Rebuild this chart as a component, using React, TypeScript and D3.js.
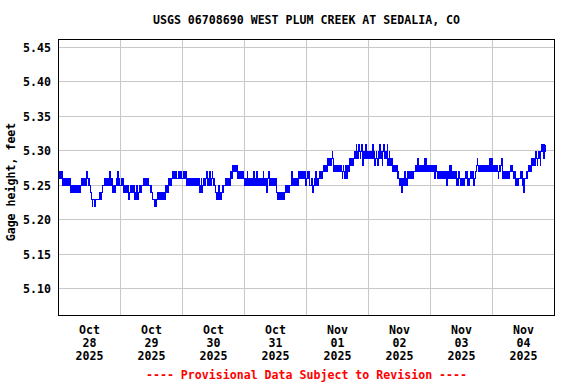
import React from "react";
import * as d3 from "d3";

const title = "USGS 06708690 WEST PLUM CREEK AT SEDALIA, CO";
const yLabel = "Gage height, feet";
const footer = "---- Provisional Data Subject to Revision ----";
const yTicks = [5.1, 5.15, 5.2, 5.25, 5.3, 5.35, 5.4, 5.45];
const dayMonths = ["Oct", "Oct", "Oct", "Oct", "Nov", "Nov", "Nov", "Nov"];
const dayNums = ["28", "29", "30", "31", "01", "02", "03", "04"];
const dayYears = ["2025", "2025", "2025", "2025", "2025", "2025", "2025", "2025"];

// 15-minute gage heights, one character per reading: value = 5.20 + hex(char)/100
const oct28 = ["676767", "565656565656", "45", "454545454554545656", "5656567656", "55", "43", "2", "3332333333", "4343", "455", "565656565", "7", "6565", "45454", "565756", "5"].join("");
const oct29 = ["5656", "454545454", "3", "45454545", "3", "4", "3", "54345", "4545", "56565656565", "545", "4433", "2323", "3434343434343", "45454", "56565", "676767", "6766", "6767676"].join("");
const oct30 = ["676767", "565656565656565656565", "4", "56", "4", "565656", "7", "6565", "7", "656", "7", "656", "54343", "454343", "4545", "5656", "56565", "676", "78787878", "67676767676"].join("");
const oct31 = ["5656", "7", "565656565", "7", "5656", "7", "565656565", "7", "5656", "4", "56", "7", "565656565656", "4343434343434", "45454545", "56", "7", "6565", "56565676767", "6767675"].join("");
const nov01 = ["6767", "65", "5656", "4", "565", "7", "5656", "676767", "7878787", "89898989", "A", "9", "787878", "7878787", "6", "787", "6", "78", "6", "787", "8989898", "9A9A", "B", "9A9", "B", "A9A", "B", "9", "8", "9A9A", "B", "9A9"].join("");
const nov02 = ["A9A9A9", "B", "A9A", "8", "9A9", "8", "A9", "B", "9A9", "8", "A", "B", "9A9A9", "B", "89", "A", "8989", "78787878", "676", "5", "56", "4", "56567565676", "67676767", "78787", "9", "787878787", "9", "78", "9", "787878"].join("");
const nov03 = ["78787868787", "67676767676767", "5", "676", "8", "6", "8", "6767676", "67565765", "565656", "6767", "5656", "676767", "5", "67", "789878", "7878787878787878", "9", "78", "9"].join("");
const nov04 = ["787878787", "6", "7878", "9", "676767676767", "78787", "6767", "565656", "6767", "56", "4", "56", "6767", "78787", "8989898", "A", "98", "9A9A", "8", "ABAB", "9", "BAB"].join("");
const dayStrings = [oct28, oct29, oct30, oct31, nov01, nov02, nov03, nov04];

const startMs = Date.UTC(2025, 9, 28);
const endMs = Date.UTC(2025, 10, 5);
const DAY = 86400000;
const STEP = 15 * 60000;

type Pt = { t: Date; v: number };
const series: Pt[] = [];
dayStrings.forEach((s, d) => {
  for (let i = 0; i < s.length; i++) {
    series.push({ t: new Date(startMs + d * DAY + i * STEP), v: 5.2 + parseInt(s[i], 16) / 100 });
  }
});

const FONT = "'DejaVu Sans Mono', 'Liberation Mono', monospace";

export default function App() {
  const W = 576;
  const H = 384;
  const left = 58.5;
  const right = 554.5;
  const top = 39.5;
  const bottom = 315.5;

  const x = d3.scaleUtc().domain([new Date(startMs), new Date(endMs)]).range([left, right]);
  const y = d3.scaleLinear().domain([5.1, 5.45]).range([288.5, 47.5]);

  const dayTicks = d3.utcDay.range(new Date(startMs), new Date(endMs));
  const innerDays = dayTicks.slice(1);

  const line = d3
    .line<Pt>()
    .x((d) => x(d.t))
    .y((d) => Math.round(y(d.v)) + 0.5)
    .curve(d3.curveStepAfter);

  return (
    <svg
      width={W}
      height={H}
      viewBox={`0 0 ${W} ${H}`}
      style={{ position: "absolute", left: 0, top: 0, background: "#ffffff" }}
    >
      <rect x={0} y={0} width={W} height={H} fill="#ffffff" />
      <text x={306.5} y={24} textAnchor="middle" fontFamily={FONT} fontWeight="bold" fontSize={11.6} fill="#000">
        {title}
      </text>
      <g shapeRendering="crispEdges">
        {yTicks.map((v) => (
          <line key={"hy" + v} x1={left} x2={right} y1={y(v)} y2={y(v)} stroke="#c8c8c8" strokeWidth={1} />
        ))}
        {innerDays.map((d) => (
          <line key={"vx" + d.getTime()} x1={x(d)} x2={x(d)} y1={top} y2={bottom} stroke="#c8c8c8" strokeWidth={1} />
        ))}
      </g>
      <path d={line(series) || ""} fill="none" stroke="#0000ff" strokeWidth={1} shapeRendering="crispEdges" />
      <rect
        x={left}
        y={top}
        width={right - left}
        height={bottom - top}
        fill="none"
        stroke="#000"
        strokeWidth={1.3}
        shapeRendering="crispEdges"
      />
      {yTicks.map((v) => (
        <text
          key={"ty" + v}
          x={51}
          y={y(v) + 4.5}
          textAnchor="end"
          fontFamily={FONT}
          fontWeight="bold"
          fontSize={11.6}
          fill="#000"
        >
          {v.toFixed(2)}
        </text>
      ))}
      {dayTicks.map((d, i) => {
        const cx = x(new Date(d.getTime() + DAY / 2));
        return (
          <g key={"tx" + i} fontFamily={FONT} fontWeight="bold" fontSize={11.6} fill="#000" textAnchor="middle">
            <text x={cx} y={334}>{dayMonths[i]}</text>
            <text x={cx} y={347}>{dayNums[i]}</text>
            <text x={cx} y={360}>{dayYears[i]}</text>
          </g>
        );
      })}
      <text
        transform="translate(15,182) rotate(-90)"
        textAnchor="middle"
        fontFamily={FONT}
        fontWeight="bold"
        fontSize={11.6}
        fill="#000"
      >
        {yLabel}
      </text>
      <text x={306.5} y={378.5} textAnchor="middle" fontFamily={FONT} fontWeight="bold" fontSize={11.6} fill="#ff0000">
        {footer}
      </text>
    </svg>
  );
}
